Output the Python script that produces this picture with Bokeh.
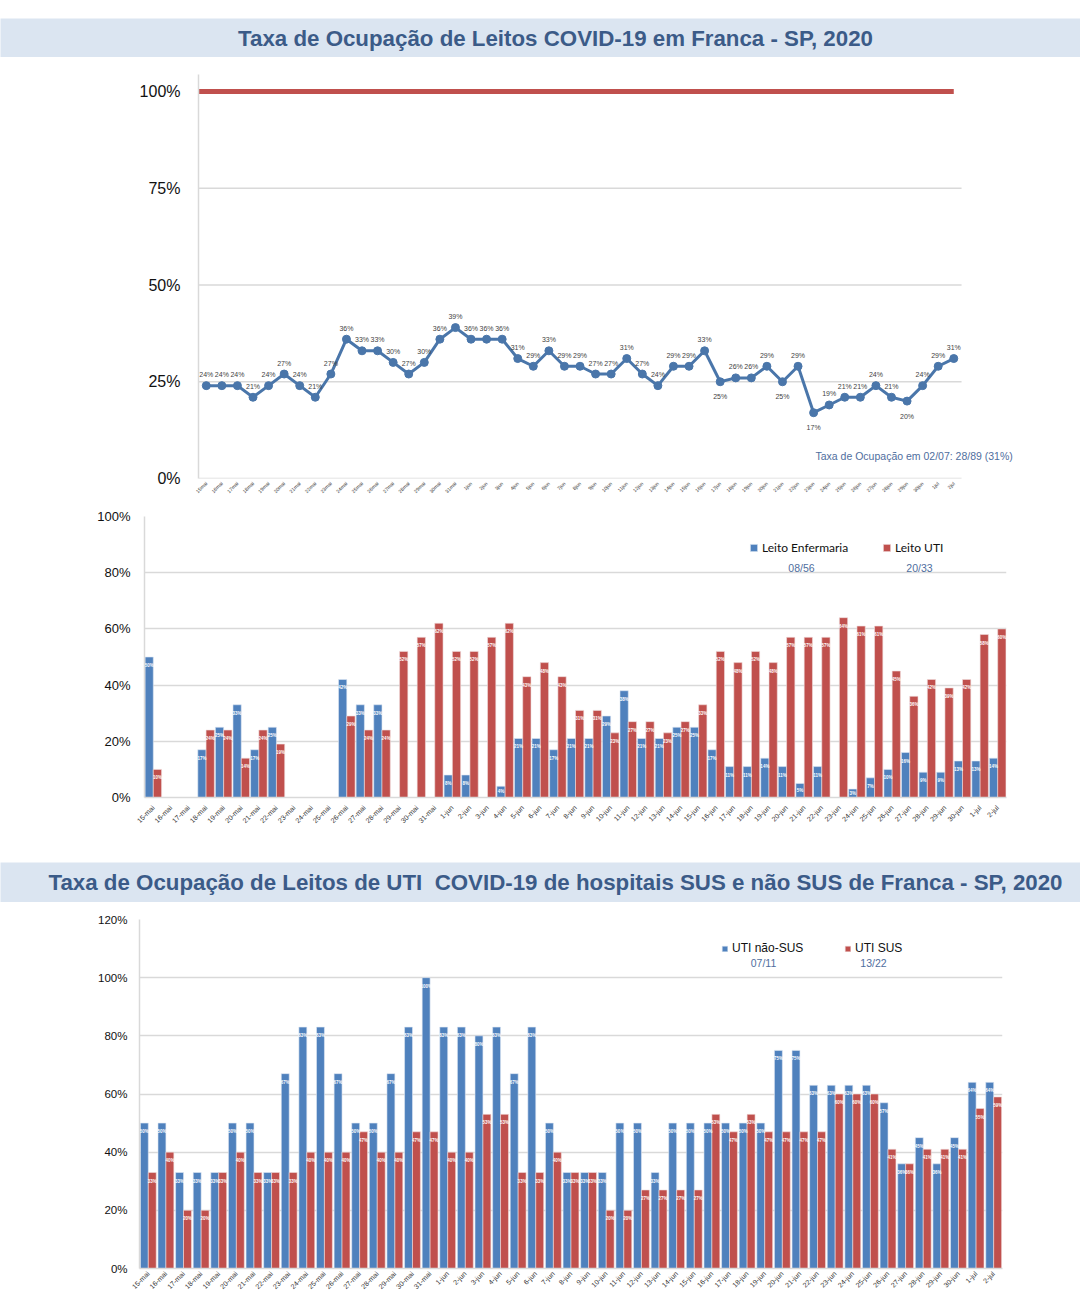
import math
from bokeh.plotting import figure
from bokeh.layouts import column
from bokeh.models import (ColumnDataSource, FactorRange, Range1d, FixedTicker,
                          PrintfTickFormatter, Label, Legend, LegendItem, Spacer)
from bokeh.transform import dodge
from bokeh.core.properties import value
from bokeh.embed import file_html
from bokeh.resources import INLINE

# ---------------- data ----------------
datas = ["15-mai", "16-mai", "17-mai", "18-mai", "19-mai", "20-mai", "21-mai", "22-mai",
         "23-mai", "24-mai", "25-mai", "26-mai", "27-mai", "28-mai", "29-mai", "30-mai",
         "31-mai", "1-jun", "2-jun", "3-jun", "4-jun", "5-jun", "6-jun", "7-jun", "8-jun",
         "9-jun", "10-jun", "11-jun", "12-jun", "13-jun", "14-jun", "15-jun", "16-jun",
         "17-jun", "18-jun", "19-jun", "20-jun", "21-jun", "22-jun", "23-jun", "24-jun",
         "25-jun", "26-jun", "27-jun", "28-jun", "29-jun", "30-jun", "1-jul", "2-jul"]

# taxa de ocupação geral (%)
taxa_geral = [24, 24, 24, 21, 24, 27, 24, 21, 27, 36, 33, 33, 30, 27, 30, 36, 39,
              36, 36, 36, 31, 29, 33, 29, 29, 27, 27, 31, 27, 24, 29, 29, 33, 25, 26,
              26, 29, 25, 29, 17, 19, 21, 21, 24, 21, 20, 24,
              29, 31]
limite = 100
rotulos_abaixo = ["17jun", "21jun", "23jun", "29jun"]

# Leito Enfermaria / Leito UTI (%)
enfermaria = [50, 0, 0, 17, 25, 33, 17, 25, 0, 0, 0, 42, 33, 33, 0, 0, 0,
              8, 8, 0, 4, 21, 21, 17, 21, 21, 29, 38, 21, 21, 25, 25, 17, 11, 11,
              14, 11, 5, 11, 0, 3, 7, 10, 16, 9, 9, 13,
              13, 14]
uti = [10, 0, 0, 24, 24, 14, 24, 19, 0, 0, 0, 29, 24, 24, 52, 57, 62,
       52, 52, 57, 62, 43, 48, 43, 31, 31, 23, 27, 27, 23, 27, 33, 52, 48, 52,
       48, 57, 57, 57, 64, 61, 61, 45, 36, 42, 39, 42,
       58, 60]

# UTI não-SUS / UTI SUS (%)
uti_nao_sus = [50, 50, 33, 33, 33, 50, 50, 33, 67, 83, 83, 67, 50, 50, 67, 83, 100,
               83, 83, 80, 83, 67, 83, 50, 33, 33, 33, 50, 50, 33, 50, 50, 50, 50, 50,
               50, 75, 75, 63, 63, 63, 63, 57, 36, 45, 36, 45,
               64, 64]
uti_sus = [33, 40, 20, 20, 33, 40, 33, 33, 33, 40, 40, 40, 47, 40, 40, 47, 47,
           40, 40, 53, 53, 33, 33, 40, 33, 33, 20, 20, 27, 27, 27, 27, 53, 47, 53,
           47, 47, 47, 47, 60, 60, 60, 41, 36, 41, 41, 41,
           55, 59]

y_ticks_linha = [0, 25, 50, 75, 100]
titulo1 = "Taxa de Ocupação de Leitos COVID-19 em Franca - SP, 2020"
titulo2 = "Taxa de Ocupação de Leitos de UTI\u00a0 COVID-19 de hospitais SUS e não SUS de Franca - SP, 2020"
nota1 = "Taxa de Ocupação em 02/07: 28/89 (31%)"
leg_mid = ["Leito Enfermaria", "Leito UTI"]
sub_mid = ["08/56", "20/33"]
leg_bot = ["UTI não-SUS", "UTI SUS"]
sub_bot = ["07/11", "13/22"]

# ---------------- style ----------------
W = 1080
BLUE = "#4f81bd"
RED = "#c0504d"
LINE_BLUE = "#4a76aa"
GRID = "#d9d9d9"
BAR_TITLE_BG = "#dbe5f1"
TITLE_COLOR = "#3b5b88"
SUB_COLOR = "#4f6e9e"
FONT = "Liberation Sans"


def title_bar(text, h):
    t = figure(width=W, height=h, x_range=Range1d(0, W), y_range=Range1d(0, h),
               toolbar_location=None, output_backend="svg", min_border=0,
               x_axis_location=None, y_axis_location=None, frame_align=False)
    t.grid.visible = False
    t.outline_line_color = None
    t.background_fill_color = BAR_TITLE_BG
    t.border_fill_color = BAR_TITLE_BG
    t.add_layout(Label(x=555, y=h / 2, text=text, text_align="center",
                       text_baseline="middle", text_font=FONT, text_font_style="bold",
                       text_font_size="22.3px", text_color=TITLE_COLOR))
    return t


def style_axes(p, yticks, yfont, ystand, xfont, xstand):
    p.outline_line_color = None
    p.xgrid.visible = False
    p.ygrid.grid_line_color = GRID
    p.ygrid.grid_line_width = 1.5
    p.yaxis.ticker = FixedTicker(ticks=yticks)
    p.yaxis.formatter = PrintfTickFormatter(format="%d%%")
    p.yaxis.major_label_text_font = FONT
    p.yaxis.major_label_text_font_size = yfont
    p.yaxis.major_label_text_color = "#111111"
    p.yaxis.major_label_standoff = ystand
    p.yaxis.major_tick_line_color = None
    p.yaxis.major_tick_out = 0
    p.yaxis.minor_tick_line_color = None
    p.yaxis.minor_tick_out = 0
    p.yaxis.axis_line_color = GRID
    p.yaxis.axis_line_width = 1.5
    p.xaxis.major_label_orientation = math.pi / 4
    p.xaxis.major_label_text_font = FONT
    p.xaxis.major_label_text_font_size = xfont
    p.xaxis.major_label_text_color = "#333333"
    p.xaxis.major_label_standoff = xstand
    p.xaxis.major_tick_line_color = None
    p.xaxis.major_tick_out = 0
    p.xaxis.minor_tick_line_color = None
    p.xaxis.minor_tick_out = 0
    p.xaxis.axis_line_color = GRID
    p.xaxis.axis_line_width = 1.5


# ---------------- chart 1: line ----------------
datas_top = [d.replace("-", "") for d in datas]
n = len(datas_top)
idx = list(range(n))
p1 = figure(width=W, height=443, x_range=Range1d(-0.5, 51.9), y_range=Range1d(0, 104.4),
            output_backend="svg", toolbar_location=None, frame_align=False,
            min_border_left=198, min_border_right=66, min_border_top=17, min_border_bottom=22)
style_axes(p1, y_ticks_linha, "16px", 18, "5px", 4)
p1.ygrid.visible = False
p1.xaxis.axis_line_color = None
p1.xaxis.ticker = FixedTicker(ticks=idx)
p1.xaxis.major_label_overrides = {i: d for i, d in enumerate(datas_top)}

# horizontal grid lines limited to the category span
src_grid = ColumnDataSource(dict(y=y_ticks_linha[:-1]))
p1.segment(x0=-0.5, x1=n - 0.5, y0="y", y1="y", source=src_grid,
           line_color=GRID, line_width=1.5)
# capacity line (100 %)
src_lim = ColumnDataSource(dict(y=[limite]))
p1.segment(x0=-0.5, x1=n - 1, y0="y", y1="y", source=src_lim,
           line_color=RED, line_width=5)

dy = [15 if d in rotulos_abaixo else -11 for d in datas_top]
src1 = ColumnDataSource(dict(x=idx, y=taxa_geral, t=[f"{v}%" for v in taxa_geral], dy=dy))
p1.line("x", "y", source=src1, line_color=LINE_BLUE, line_width=3)
p1.scatter("x", "y", source=src1, size=8, fill_color=LINE_BLUE, line_color=LINE_BLUE)
p1.text("x", "y", text="t", source=src1, y_offset="dy", text_align="center",
        text_baseline="middle", text_font=value(FONT), text_font_size="7px",
        text_color="#3f3f3f")
p1.add_layout(Label(x=617, y=23, x_units="screen", y_units="screen", text=nota1,
                    text_align="left", text_baseline="middle", text_font=FONT,
                    text_font_size="10.5px", text_color=SUB_COLOR))


# ---------------- bar chart helper ----------------
def bar_chart(height, ymax, yticks, borders, yfont, ystand, xfont, xstand,
              s1, s2, names, subs, leg_font, leg_glyph, leg_pos, sub_pos, width, off, px_per):
    bl, br, bt, bb = borders
    p = figure(width=W, height=height, x_range=FactorRange(*datas), y_range=Range1d(0, ymax),
               output_backend="svg", toolbar_location=None, frame_align=False,
               min_border_left=bl, min_border_right=br, min_border_top=bt, min_border_bottom=bb)
    style_axes(p, yticks, yfont, ystand, xfont, xstand)
    src = ColumnDataSource(dict(x=datas, a=s1, b=s2))
    ra = p.vbar(x=dodge("x", -off, range=p.x_range), top="a", width=width, source=src,
                fill_color=BLUE, line_color="#dfe8f3", line_width=0.6)
    rb = p.vbar(x=dodge("x", off, range=p.x_range), top="b", width=width, source=src,
                fill_color=RED, line_color="#f0dede", line_width=0.6)
    for vals, o in ((s1, -off), (s2, off)):
        xs = [d for d, v in zip(datas, vals) if v > 0]
        ys = [v for v in vals if v > 0]
        ts = [f"{v}%" for v in ys]
        ds = [min(8.5, v * px_per / 2) for v in ys]
        ls = ColumnDataSource(dict(x=xs, y=ys, t=ts, dy=ds))
        p.text(x=dodge("x", o, range=p.x_range), y="y", text="t", y_offset="dy", source=ls,
               text_align="center", text_baseline="middle", text_font=value(FONT),
               text_font_size="4.5px", text_font_style="bold", text_color="white")
    for r, name, (lx, ly) in zip((ra, rb), names, leg_pos):
        leg = Legend(items=[LegendItem(label=name, renderers=[r])], location=(lx, ly),
                     orientation="horizontal", padding=0, margin=0,
                     border_line_color=None, background_fill_alpha=0,
                     glyph_width=leg_glyph, glyph_height=leg_glyph, label_standoff=4,
                     label_height=14, label_text_font=leg_font[0],
                     label_text_font_size=leg_font[1], label_text_color="#111111")
        p.add_layout(leg, "center")
    for sub, (sx, sy) in zip(subs, sub_pos):
        p.add_layout(Label(x=sx, y=sy, x_units="screen", y_units="screen", text=sub,
                           text_align="center", text_baseline="middle", text_font=FONT,
                           text_font_size="10.5px", text_color=SUB_COLOR))
    return p


p2 = bar_chart(362, 100, [0, 20, 40, 60, 80, 100], (144, 74, 16, 65), "13px", 14, "7px", 9,
               enfermaria, uti, leg_mid, sub_mid, ("Lato", "12px"), 9,
               [(605, 242), (738, 242)], [(657, 230), (775, 230)], 0.47, 0.235, 2.81)

p3 = bar_chart(393, 120, [0, 20, 40, 60, 80, 100, 120], (139, 78, 17, 26), "11.5px", 12, "7px", 4,
               uti_nao_sus, uti_sus, leg_bot, sub_bot, (FONT, "12px"), 7,
               [(582, 313), (705, 313)], [(624, 306), (734, 306)], 0.45, 0.225, 2.92)

t1 = title_bar(titulo1, 39)
t2 = title_bar(titulo2, 40)

layout = column(Spacer(width=W, height=18), t1, p1, p2, t2, p3, spacing=0)

with open("out.html", "w") as f:
    f.write(file_html(layout, INLINE))
